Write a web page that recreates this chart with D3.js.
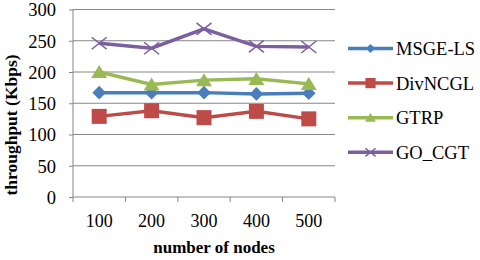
<!DOCTYPE html>
<html>
<head>
<meta charset="utf-8">
<script src="https://cdn.jsdelivr.net/npm/d3@7"></script>
<style>
  body { margin: 0; background: #fff; }
</style>
</head>
<body>
<script>
// chart data
var nodes = ["100", "200", "300", "400", "500"];
var seriesNames = ["MSGE-LS", "DivNCGL", "GTRP", "GO_CGT"];
var msgeLs = [167, 167, 167, 165, 166];
var divNcgl = [129, 138, 127, 137, 125];
var gtrp = [200, 180, 187, 189, 181];
var goCgt = [246, 238, 269, 241, 240];
var yTicks = [0, 50, 100, 150, 200, 250, 300];

var colors = ["#4A7EBB", "#BE4B48", "#98B954", "#7D5FA0"];
var symbols = ["diamond", "square", "triangle", "x"];
var allValues = [msgeLs, divNcgl, gtrp, goCgt];
var serif = "'Liberation Serif', 'Times New Roman', Times, serif";

var width = 480, height = 260;
var margin = {left: 73, top: 9.5, right: 145, bottom: 63};

var svg = d3.select("body").append("svg")
  .attr("width", width)
  .attr("height", height)
  .attr("font-family", serif);

var x = d3.scaleBand()
  .domain(nodes)
  .range([margin.left, width - margin.right]);

var y = d3.scaleLinear()
  .domain([0, 300])
  .range([height - margin.bottom, margin.top]);

// gridlines
svg.append("g")
  .selectAll("line")
  .data(yTicks.slice(1))
  .enter().append("line")
  .attr("x1", margin.left)
  .attr("x2", width - margin.right)
  .attr("y1", function (d) { return y(d); })
  .attr("y2", function (d) { return y(d); })
  .attr("stroke", "#868686")
  .attr("stroke-width", 1);

// y axis
var yAxis = svg.append("g")
  .attr("transform", "translate(" + margin.left + ",0)")
  .call(d3.axisLeft(y).tickValues(yTicks).tickSize(4).tickPadding(13));
yAxis.attr("font-family", serif).attr("font-size", null);
yAxis.selectAll("line, path").attr("stroke", "#868686");
yAxis.select(".domain").attr("d", "M0," + y(300) + "V" + y(0));
yAxis.selectAll("text")
  .attr("dy", "0.34em")
  .attr("fill", "#000")
  .style("font-family", serif)
  .style("font-size", "18.5px");

// x axis, ticks on category boundaries
var xAxis = svg.append("g")
  .attr("transform", "translate(0," + y(0) + ")");
xAxis.append("line")
  .attr("x1", margin.left).attr("x2", width - margin.right)
  .attr("stroke", "#868686");
var bounds = nodes.map(function (d) { return x(d); }).concat([x.range()[1]]);
xAxis.selectAll(".tk")
  .data(bounds)
  .enter().append("line")
  .attr("class", "tk")
  .attr("x1", function (d) { return d; })
  .attr("x2", function (d) { return d; })
  .attr("y1", 0).attr("y2", 5)
  .attr("stroke", "#868686");
xAxis.selectAll(".lbl")
  .data(nodes)
  .enter().append("text")
  .attr("class", "lbl")
  .attr("x", function (d) { return x(d) + x.bandwidth() / 2; })
  .attr("y", 30)
  .attr("text-anchor", "middle")
  .style("font-family", serif)
  .style("font-size", "18px")
  .text(function (d) { return d; });

// axis titles
svg.append("text")
  .attr("x", 214)
  .attr("y", 253)
  .attr("text-anchor", "middle")
  .style("font-family", serif)
  .style("font-size", "17px")
  .style("font-weight", "bold")
  .text("number of nodes");

svg.append("text")
  .attr("transform", "translate(17,125) rotate(-90)")
  .attr("text-anchor", "middle")
  .style("font-family", serif)
  .style("font-size", "17.5px")
  .style("font-weight", "bold")
  .text("throughput (Kbps)");

function symbolPath(kind) {
  if (kind === "diamond") return "M0,-6.8L6.8,0L0,6.8L-6.8,0Z";
  if (kind === "square") return "M-7.5,-7.5H7.5V7.5H-7.5Z";
  if (kind === "triangle") return "M0,-7L8,6L-8,6Z";
  return "M-7.5,-6L7.5,6M-7.5,6L7.5,-6";
}

var line = d3.line()
  .x(function (d, i) { return x(nodes[i]) + x.bandwidth() / 2; })
  .y(function (d) { return y(d); });

allValues.forEach(function (vals, s) {
  var g = svg.append("g");
  g.append("path")
    .datum(vals)
    .attr("d", line)
    .attr("fill", "none")
    .attr("stroke", colors[s])
    .attr("stroke-width", 3.5);
  g.selectAll("path.m")
    .data(vals)
    .enter().append("path")
    .attr("class", "m")
    .attr("d", symbolPath(symbols[s]))
    .attr("transform", function (d, i) {
      return "translate(" + (x(nodes[i]) + x.bandwidth() / 2) + "," + y(d) + ")";
    })
    .attr("fill", symbols[s] === "x" ? "none" : colors[s])
    .attr("stroke", colors[s])
    .attr("stroke-width", symbols[s] === "x" ? 1.6 : 0);
});

// legend
var legend = svg.append("g");
seriesNames.forEach(function (name, s) {
  var ly = 48.5 + s * 34.6;
  legend.append("line")
    .attr("x1", 348).attr("x2", 393)
    .attr("y1", ly).attr("y2", ly)
    .attr("stroke", colors[s])
    .attr("stroke-width", 3.5);
  legend.append("path")
    .attr("d", symbolPath(symbols[s]))
    .attr("transform", "translate(370.5," + ly + ") scale(0.68)")
    .attr("fill", symbols[s] === "x" ? "none" : colors[s])
    .attr("stroke", colors[s])
    .attr("stroke-width", symbols[s] === "x" ? 2.2 : 0);
  legend.append("text")
    .attr("x", 396)
    .attr("y", ly + 6.5)
    .style("font-family", serif)
    .style("font-size", "18.5px")
    .text(name);
});
</script>
</body>
</html>
